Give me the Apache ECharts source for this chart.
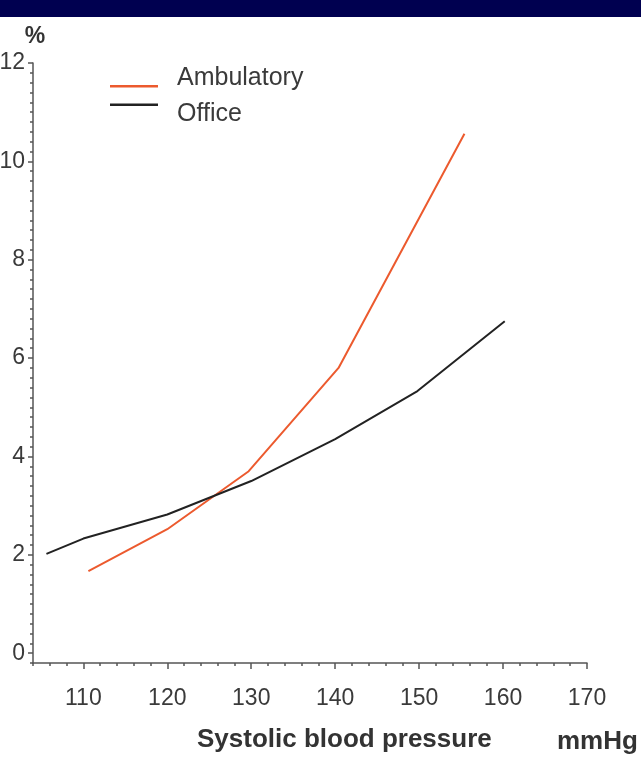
<!DOCTYPE html>
<html>
<head>
<meta charset="utf-8">
<script src="https://cdn.jsdelivr.net/npm/echarts@6/dist/echarts.min.js"></script>
<style>
html,body{margin:0;padding:0;background:#fff;}
#chart{width:641px;height:758px;}
</style>
</head>
<body>
<div id="chart"></div>
<script>
// Data
const xTickLabels = [110, 120, 130, 140, 150, 160, 170];
const yTickLabels = [0, 2, 4, 6, 8, 10, 12];
const ambulatoryX = [110.6, 120, 129.7, 140.4, 155.4];
const ambulatoryY = [1.67, 2.52, 3.70, 5.80, 10.56];
const officeX = [105.6, 110, 120, 130, 140, 149.8, 160.2];
const officeY = [2.02, 2.33, 2.82, 3.50, 4.35, 5.33, 6.75];
const seriesNames = ['Ambulatory', 'Office'];
const xTitle = 'Systolic blood pressure';
const xUnit = 'mmHg';
const yUnit = '%';

const FONT = '"Liberation Sans", Arial, sans-serif';
const chart = echarts.init(document.getElementById('chart'), null, {renderer: 'canvas'});

const zip = (xs, ys) => xs.map((x, i) => [x, ys[i]]);
const axisColor = '#555';
const labelColor = '#3a3a3a';

const option = {
  backgroundColor: '#ffffff',
  animation: false,
  graphic: [{
    type: 'rect', left: 0, top: 0, z: 10,
    shape: {width: 641, height: 17},
    style: {fill: '#000050'}
  }],
  title: [
    {text: xTitle, left: 197, top: 727, padding: 0,
     textStyle: {fontFamily: FONT, fontSize: 26, fontWeight: 'bold', color: '#333'}},
    {text: xUnit, left: 557, top: 729, padding: 0,
     textStyle: {fontFamily: FONT, fontSize: 26, fontWeight: 'bold', color: '#333'}}
  ],
  legend: [
    {data: [seriesNames[0]], left: 110, top: 66,
     icon: 'path://M0,0 L0,0 M0,15.5 L48,15.5 L48,18 L0,18 Z',
     itemWidth: 48, itemHeight: 18, itemGap: 0, padding: 0,
     textStyle: {fontFamily: FONT, fontSize: 25, color: '#3a3a3a', padding: [0, 0, 0, 14]}},
    {data: [seriesNames[1]], left: 110, top: 102,
     icon: 'path://M0,0 L48,0 L48,2.5 L0,2.5 Z M0,22 L0,22',
     itemWidth: 48, itemHeight: 22, itemGap: 0, padding: 0,
     textStyle: {fontFamily: FONT, fontSize: 25, color: '#3a3a3a', padding: [0, 0, 0, 14]}}
  ],
  grid: {left: 33, right: 54, top: 63, bottom: 95, outerBoundsMode: 'none', containLabel: false},
  xAxis: [
    {type: 'value', min: 104, max: 170, interval: 2, position: 'bottom',
     axisLine: {show: true, onZero: false, lineStyle: {color: axisColor, width: 1.5}},
     axisTick: {show: true, length: 3, lineStyle: {color: axisColor, width: 1.5}},
     axisLabel: {show: false}, splitLine: {show: false}},
    {type: 'value', min: 104, max: 170, interval: 2, position: 'bottom', offset: 0,
     axisLine: {show: false, onZero: false},
     axisTick: {show: true, length: 6, customValues: xTickLabels, lineStyle: {color: axisColor, width: 1.5}},
     axisLabel: {show: true, customValues: xTickLabels, margin: 24,
       fontFamily: FONT, fontSize: 23, color: labelColor},
     splitLine: {show: false}}
  ],
  yAxis: [
    {type: 'value', min: -0.2, max: 12, interval: 0.2, position: 'left',
     name: yUnit, nameLocation: 'end', nameGap: 15,
     nameTextStyle: {fontFamily: FONT, fontSize: 23, fontWeight: 'bold', color: '#333', align: 'center',
       padding: [0, 0, 0, 4]},
     axisLine: {show: true, onZero: false, lineStyle: {color: axisColor, width: 1.5}},
     axisTick: {show: true, length: 3, lineStyle: {color: axisColor, width: 1.5}},
     axisLabel: {show: false}, splitLine: {show: false}},
    {type: 'value', min: -0.2, max: 12, interval: 0.2, position: 'left', offset: 0,
     axisLine: {show: false, onZero: false},
     axisTick: {show: true, length: 5, customValues: yTickLabels, lineStyle: {color: axisColor, width: 1.5}},
     axisLabel: {show: true, customValues: yTickLabels, margin: 8,
       fontFamily: FONT, fontSize: 23, color: labelColor},
     splitLine: {show: false}}
  ],
  series: [
    {name: seriesNames[0], type: 'line', xAxisIndex: 0, yAxisIndex: 0,
     data: zip(ambulatoryX, ambulatoryY), showSymbol: false, symbol: 'none',
     lineStyle: {color: '#ec5a2e', width: 2}, itemStyle: {color: '#ec5a2e', borderWidth: 0}},
    {name: seriesNames[1], type: 'line', xAxisIndex: 0, yAxisIndex: 0,
     data: zip(officeX, officeY), showSymbol: false, symbol: 'none',
     lineStyle: {color: '#222', width: 2}, itemStyle: {color: '#222', borderWidth: 0}}
  ]
};
chart.setOption(option);
</script>
</body>
</html>
